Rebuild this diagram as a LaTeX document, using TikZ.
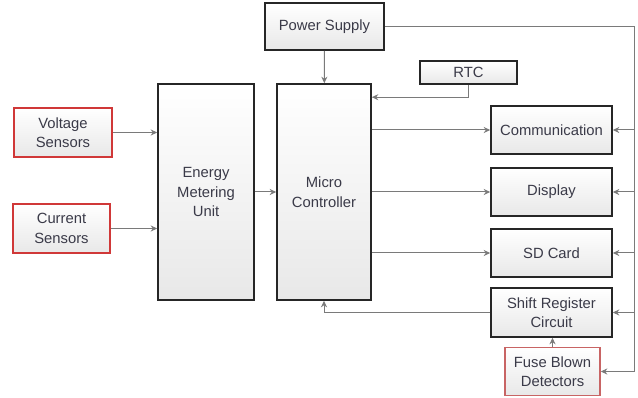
\documentclass[tikz,border=0pt]{standalone}
\usepackage{fontspec}
\setmainfont{Liberation Sans}
\usetikzlibrary{arrows.meta,calc}
\definecolor{txt}{HTML}{3A3A48}
\definecolor{ln}{HTML}{7A7A7A}
\definecolor{boxred}{HTML}{D03838}
\definecolor{boxred2}{HTML}{C86464}
\begin{document}
\begin{tikzpicture}[x=1pt,y=-1pt,
  blk/.style={draw=black!85,line width=1.6pt,top color=white,bottom color=black!9,
    text=txt,align=center,inner sep=0pt,font=\fontsize{14.8}{19.5}\selectfont},
  redblk/.style={blk,draw=boxred},
  redblk2/.style={blk,draw=boxred2},
  arr/.style={draw=ln,line width=1pt,-{Stealth[length=6.5pt,width=6pt]}},
  lin/.style={draw=ln,line width=1pt}]
\useasboundingbox (0,0) rectangle (638,398);
\node[blk,minimum width=119pt,minimum height=47pt] (ps) at (324.5,26.5) {Power Supply};
\node[blk,minimum width=97pt,minimum height=23pt] (rtc) at (468.5,72.5) {RTC};
\node[blk,minimum width=94pt,minimum height=216pt] (mc) at (324,192) {Micro\\Controller};
\node[blk,minimum width=96pt,minimum height=216pt] (emu) at (206,192) {Energy\\Metering\\Unit};
\node[redblk,minimum width=98pt,minimum height=49pt] (vs) at (63,132.5) {Voltage\\Sensors};
\node[redblk,minimum width=97pt,minimum height=49pt] (cs) at (61.5,228.5) {Current\\Sensors};
\node[blk,minimum width=121pt,minimum height=48pt] (comm) at (551.5,130) {Communication};
\node[blk,minimum width=121pt,minimum height=48pt] (disp) at (551.5,192) {Display};
\node[blk,minimum width=121pt,minimum height=48pt] (sd) at (551.5,253) {SD Card};
\node[blk,minimum width=121pt,minimum height=49pt] (sr) at (551.5,312.5) {Shift Register\\Circuit};
\node[redblk2,minimum width=95pt,minimum height=48pt] (fb) at (552.5,371.5) {Fuse Blown\\Detectors};
\coordinate (busx) at (634,0);
% connectors
\draw[arr] (ps) -- (mc);
\draw[arr] (rtc.south) |- ([yshift=-14pt]mc.north east);
\draw[arr] (vs) -- (vs -| emu.west);
\draw[arr] (cs) -- (cs -| emu.west);
\draw[arr] (emu) -- (mc);
\draw[arr] (comm -| mc.east) -- (comm);
\draw[arr] (disp -| mc.east) -- (disp);
\draw[arr] (sd -| mc.east) -- (sd);
\draw[arr] (sr.west) -| (mc.south);
\draw[arr] (fb.north) -- (fb.north |- sr.south);
\draw[arr] (ps.east) -| (busx |- fb.east) -- (fb.east);
\draw[arr] (busx |- comm) -- (comm.east);
\draw[arr] (busx |- disp) -- (disp.east);
\draw[arr] (busx |- sd) -- (sd.east);
\draw[arr] (busx |- sr) -- (sr.east);
\end{tikzpicture}
\end{document}
